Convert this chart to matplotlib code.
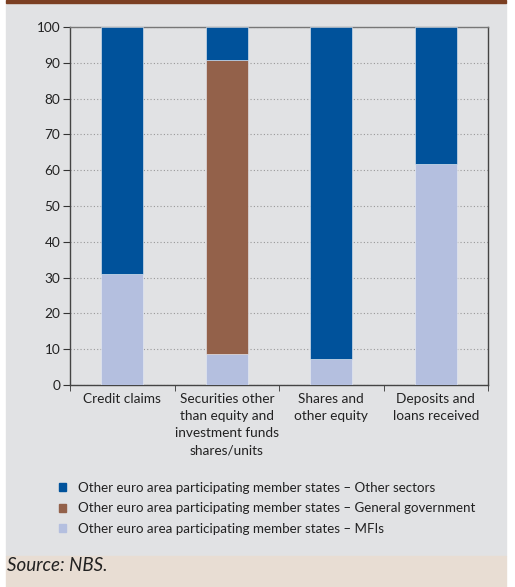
import numpy as np
import matplotlib.pyplot as plt
from matplotlib.patches import Rectangle, Patch

categories = ["Credit claims", "Securities other\nthan equity and\ninvestment funds\nshares/units",
              "Shares and\nother equity", "Deposits and\nloans received"]
mfis = [31.0, 8.7, 7.2, 61.8]
general_gov = [0.0, 82.1, 0.0, 0.0]
other_sectors = [69.0, 9.2, 92.8, 38.2]

series_labels = ["Other euro area participating member states \u2013 Other sectors",
                 "Other euro area participating member states \u2013 General government",
                 "Other euro area participating member states \u2013 MFIs"]
c_blue, c_brown, c_light = "#00529b", "#93614a", "#b4bfdf"

plt.rcParams['font.family'] = ['Lato', 'DejaVu Sans']
FS = 9.8

fig = plt.figure(figsize=(5.15, 5.87), dpi=100)
W, H = 515, 587
# panel backgrounds
fig.patches.append(Rectangle((6 / W, 31 / H), 500 / W, 553 / H,
                             transform=fig.transFigure, color="#e1e2e4", zorder=-10))
fig.patches.append(Rectangle((6 / W, 0), 500 / W, 31 / H,
                             transform=fig.transFigure, color="#e8ddd3", zorder=-10))
fig.patches.append(Rectangle((6 / W, 1 - 3 / H), 500 / W, 3 / H,
                             transform=fig.transFigure, color="#7b3f22", zorder=-10))

ax = fig.add_axes([70 / W, 1 - 385 / H, 418 / W, 358 / H])
ax.set_facecolor("none")
x = np.arange(len(categories))
mfis = np.array(mfis)
general_gov = np.array(general_gov)
other_sectors = np.array(other_sectors)
kw = dict(width=0.4, edgecolor="#e8ecf4", linewidth=0.4, zorder=3)
ax.bar(x, mfis, color=c_light, **kw)
ax.bar(x, general_gov, bottom=mfis, color=c_brown, **kw)
ax.bar(x, other_sectors, bottom=mfis + general_gov, color=c_blue, **kw)

ax.set_xlim(-0.5, 3.5)
ax.set_ylim(0, 100)
ax.set_yticks(np.arange(0, 101, 10))
ax.yaxis.grid(True, linestyle=(0, (1, 2)), color="#999999", linewidth=0.8, zorder=1)
ax.set_xticks(x)
ax.set_xticklabels(categories, fontsize=FS, linespacing=1.5, color="#222222")
ax.set_xticks(np.arange(-0.5, 4, 1), minor=True)
ax.tick_params(axis="x", which="major", length=0, pad=6)
ax.tick_params(axis="x", which="minor", length=4, color="#333333")
ax.tick_params(axis="y", length=5, labelsize=FS, colors="#333333", labelcolor="#222222", pad=2)
for s in ax.spines.values():
    s.set_color("#444444")
    s.set_linewidth(1.0)
ax.spines["top"].set_color("#777777")

handles = [Patch(color=c) for c in (c_blue, c_brown, c_light)]
fig.legend(handles, series_labels, loc="upper left", bbox_to_anchor=(47 / W, 1 - 470 / H),
           frameon=False, fontsize=9.6, handlelength=0.55, handleheight=0.55,
           handletextpad=0.9, labelspacing=0.62, labelcolor="#222222")

fig.text(7 / W, 1 - 571 / H, "Source: NBS.", fontsize=13.5, style="italic",
         va="baseline", ha="left", color="#222222")

fig.savefig("out.png", dpi=100)
